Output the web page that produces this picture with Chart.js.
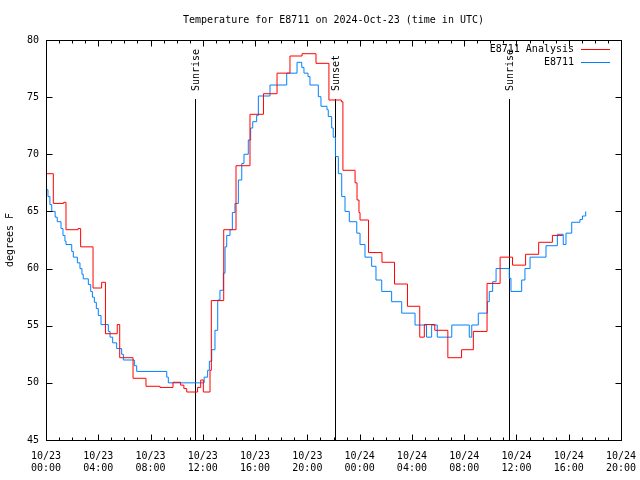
<!DOCTYPE html>
<html><head><meta charset="utf-8">
<script src="https://cdn.jsdelivr.net/npm/chart.js@4"></script>
<style>html,body{margin:0;padding:0;background:#fff}canvas{display:block}</style>
</head><body>
<div style="width:640px;height:480px"><canvas id="c" width="640" height="480"></canvas></div>
<script>
const chartTitle = 'Temperature for E8711 on 2024-Oct-23 (time in UTC)';
const yTitle = 'degrees F';
const seriesNames = ['E8711 Analysis', 'E8711'];
const tickDates = ['10/23','10/23','10/23','10/23','10/23','10/23','10/24','10/24','10/24','10/24','10/24','10/24'];
const tickTimes = ['00:00','04:00','08:00','12:00','16:00','20:00','00:00','04:00','08:00','12:00','16:00','20:00'];
const eventHours = [11.43, 22.14, 35.45];
const eventLabels = ['Sunrise', 'Sunset', 'Sunrise'];

// hours since 10/23 00:00 UTC
const analysisHours = [0,0.56,1.35,1.53,2.45,2.65,3.6,4.26,4.55,5.45,5.64,6.66,7.65,8.72,9.72,10.3,10.55,10.77,11.6,11.84,12.04,12.55,12.65,13.6,14.54,15.61,16.64,17.68,18.67,19.59,20.66,21.65,22.6,22.72,23.65,23.8,23.95,24.03,24.68,25.71,26.67,27.66,28.6,28.95,29.75,30.75,31.8,32.7,33.75,34.75,35.7,36.7,37.7,38.75,39.55];
const analysisTemps = [68.3,65.7,65.8,63.4,63.5,61.9,58.3,58.8,54.3,55.1,52.2,50.4,49.7,49.6,50.05,49.8,49.5,49.2,49.6,50.25,49.2,51.1,57.2,63.4,69.0,73.5,75.3,77.1,78.6,78.8,77.96,74.75,74.6,68.6,67.5,66.0,64.9,64.25,61.4,60.55,58.65,56.7,54.0,55.1,54.6,52.2,52.9,54.5,58.7,61.0,60.3,61.25,62.3,62.9,62.9];

const obsHours = [0,0.15,0.3,0.44,0.7,0.86,1.15,1.3,1.45,1.53,1.97,2.09,2.4,2.6,2.75,2.85,3.24,3.42,3.55,3.7,3.85,4.0,4.21,4.77,4.9,5.1,5.41,5.79,5.92,6.76,6.94,9.24,9.36,12.1,12.37,12.5,12.68,12.93,13.14,13.31,13.57,13.7,13.83,14.08,14.26,14.46,14.72,14.98,15.15,15.48,15.66,15.82,16.12,16.25,17.14,18.42,19.21,19.57,19.74,20.05,20.2,20.84,21.04,21.5,21.6,21.86,21.98,22.15,22.37,22.63,22.88,23.21,23.78,24.03,24.41,24.92,25.25,25.69,26.45,27.22,28.24,29.12,29.51,29.94,31.05,32.39,32.58,33.08,33.77,33.92,34.18,34.44,35.45,35.58,36.4,36.65,37.04,38.26,39.13,39.58,39.79,40.23,40.86,41.05,41.3];
const obsTemps = [66.9,66.3,65.6,65.0,64.5,64.1,63.5,62.9,62.4,62.1,61.5,61.0,60.5,60.0,59.5,59.1,58.6,58.0,57.5,57.05,56.5,55.9,55.1,54.5,54.0,53.5,53.0,52.5,52.0,51.5,51.0,50.5,50.0,50.5,51.1,51.9,52.9,54.6,57.25,58.1,59.6,61.9,62.9,63.4,64.9,65.7,67.75,69.2,70.0,71.25,72.3,72.85,73.4,75.1,76.06,77.1,78.05,77.6,77.1,76.8,76.06,75.04,74.2,73.9,73.3,72.3,71.5,69.8,68.3,66.3,65.0,64.1,63.1,62.1,61.0,60.2,59.0,58.0,57.1,56.1,55.06,54.0,55.06,54.0,55.06,54.0,55.06,56.1,57.1,58.0,58.85,60.0,59.15,58.0,59.0,60.0,61.0,62.0,63.0,62.1,63.1,64.05,64.3,64.6,65.0];

const FONT = 'DejaVu Sans Mono';
const RED = '#ff0000';
const BLUE = '#0080ff';

const toPts = (xs, ys) => xs.map((x, i) => ({x: x, y: ys[i]}));

const framePlugin = {
  id: 'frame',
  beforeDatasetsDraw(chart) {
    const {ctx, chartArea: a, scales: {x}} = chart;
    ctx.save();
    ctx.strokeStyle = '#000';
    ctx.lineWidth = 1;
    eventHours.forEach((h, i) => {
      const px = Math.round(x.getPixelForValue(h)) + 0.5;
      ctx.beginPath();
      ctx.moveTo(px, 99);
      ctx.lineTo(px, a.bottom);
      ctx.stroke();
      ctx.save();
      ctx.translate(px + 1, 91);
      ctx.rotate(-Math.PI / 2);
      ctx.font = '10px ' + FONT;
      ctx.fillStyle = '#000';
      ctx.textAlign = 'left';
      ctx.textBaseline = 'middle';
      ctx.fillText(eventLabels[i], 0, 0);
      ctx.restore();
    });
    ctx.restore();
  },
  afterDraw(chart) {
    const {ctx, chartArea: a, scales: {x, y}} = chart;
    ctx.save();
    ctx.strokeStyle = '#000';
    ctx.lineWidth = 1;
    const L = Math.round(a.left) + 0.5, R = Math.round(a.right) + 0.5;
    const T = Math.round(a.top) + 0.5, B = Math.round(a.bottom) + 0.5;
    ctx.strokeRect(L, T, R - L, B - T);
    ctx.beginPath();
    for (let h = 0; h <= 44; h++) {
      const px = Math.round(x.getPixelForValue(h)) + 0.5;
      const len = (h % 4 === 0) ? 6 : 3;
      ctx.moveTo(px, B); ctx.lineTo(px, B - len);
      ctx.moveTo(px, T); ctx.lineTo(px, T + len);
    }
    for (let v = 45; v <= 80; v += 5) {
      const py = Math.round(y.getPixelForValue(v)) + 0.5;
      ctx.moveTo(L, py); ctx.lineTo(L + 6, py);
      ctx.moveTo(R, py); ctx.lineTo(R - 6, py);
    }
    ctx.stroke();
    ctx.font = '10px ' + FONT;
    ctx.fillStyle = '#000';
    ctx.textAlign = 'center';
    ctx.textBaseline = 'middle';
    ctx.fillText(chartTitle, (a.left + a.right) / 2, 20);
    ctx.save();
    ctx.translate(10, 240);
    ctx.rotate(-Math.PI / 2);
    ctx.fillText(yTitle, 0, 0);
    ctx.restore();
    const colors = [RED, BLUE];
    const rows = [49, 62];
    ctx.textAlign = 'right';
    seriesNames.forEach((n, i) => {
      ctx.fillStyle = '#000';
      ctx.fillText(n, 574, rows[i]);
      ctx.strokeStyle = colors[i];
      ctx.beginPath();
      ctx.moveTo(581, rows[i] + 0.5);
      ctx.lineTo(610, rows[i] + 0.5);
      ctx.stroke();
    });
    ctx.restore();
  }
};

new Chart(document.getElementById('c'), {
  type: 'line',
  data: {
    datasets: [
      {label: seriesNames[0], data: toPts(analysisHours, analysisTemps), borderColor: RED, backgroundColor: RED, borderWidth: 1, pointRadius: 0, stepped: true, fill: false},
      {label: seriesNames[1], data: toPts(obsHours, obsTemps), borderColor: BLUE, backgroundColor: BLUE, borderWidth: 1, pointRadius: 0, stepped: true, fill: false}
    ]
  },
  plugins: [framePlugin],
  options: {
    responsive: false,
    animation: false,
    devicePixelRatio: 1,
    layout: {padding: {top: 40, right: 19, left: 0, bottom: 0}},
    plugins: {legend: {display: false}, title: {display: false}, tooltip: {enabled: false}},
    scales: {
      x: {
        type: 'linear', min: 0, max: 44,
        grid: {display: false, drawTicks: false},
        border: {display: false},
        ticks: {
          stepSize: 4, autoSkip: false, maxRotation: 0, padding: 10,
          color: '#000', font: {family: FONT, size: 10, lineHeight: 1.2},
          callback: (v) => [tickDates[v / 4], tickTimes[v / 4]]
        },
        afterFit: (s) => { s.height = 40; s.paddingLeft = 0; s.paddingRight = 0; }
      },
      y: {
        min: 45, max: 80,
        grid: {display: false, drawTicks: false},
        border: {display: false},
        ticks: {stepSize: 5, padding: 7, color: '#000', font: {family: FONT, size: 10}},
        afterFit: (s) => { s.width = 46; s.paddingTop = 0; s.paddingBottom = 0; }
      }
    }
  }
});
</script>
</body></html>
